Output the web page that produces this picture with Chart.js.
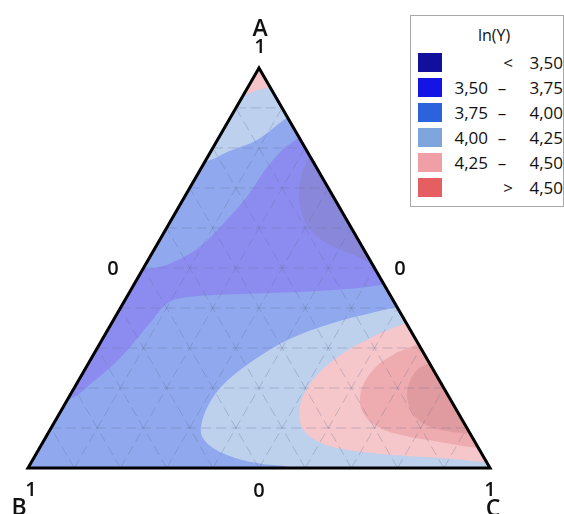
<!DOCTYPE html>
<html>
<head>
<meta charset="utf-8">
<script src="https://cdn.jsdelivr.net/npm/chart.js@4.4.0/dist/chart.umd.min.js"></script>
<style>
  body { margin: 0; background: #fff; font-family: "Open Sans", sans-serif; color: #000; }
  #wrap { position: relative; width: 564px; height: 514px; overflow: hidden; }
  #plot { position: absolute; left: 0; top: 0; }
  .lbl { position: absolute; transform: translate(-50%, -50%); line-height: 1; white-space: nowrap; font-weight: 600; color: #111; }
  #legend { position: absolute; left: 410px; top: 15px; width: 152px; height: 190px; border: 1px solid #a8a8a8; background: #fff; }
  #legend span { position: absolute; font-size: 17px; line-height: 1; white-space: nowrap; color: #111; font-weight: 500; }
  #legend .sw { width: 24px; height: 19px; }
</style>
</head>
<body>
<div id="wrap">
  <canvas id="plot" width="564" height="514"></canvas>
  <div id="legend"></div>
</div>
<script>
// ternary compositions are given as [A, C]; B = 1 - A - C
const vertexNames = ['A', 'B', 'C'];
const gridTicks = [0.1, 0.2, 0.3, 0.4, 0.5, 0.6, 0.7, 0.8, 0.9];

const levelTitle = 'ln(Y)';
const levelBreaks = ['3,50', '3,75', '4,00', '4,25', '4,50'];
const levelColors = ['#10109c', '#1414e4', '#2c62dc', '#7ea5dc', '#eea0a6', '#e45e62'];

// contour bands, boundaries (points outside the triangle get masked)
const bandWhole = [[0, 0], [0, 1], [1, 0]];
const bandPurple = [
  [0.828, 0.175], [0.818, 0.267], [0.468, 0.615], [0.458, 0.542], [0.448, 0.473],
  [0.440, 0.369], [0.435, 0.241], [0.428, 0.137], [0.413, 0.097], [0.363, 0.083],
  [0.275, 0.062], [0.213, 0.032], [0.173, 0.005], [0.180, -0.042], [0.505, -0.053],
  [0.498, 0.004], [0.503, 0.034], [0.520, 0.065], [0.553, 0.096], [0.613, 0.118],
  [0.678, 0.135], [0.748, 0.141], [0.798, 0.153]
];
const bandDarkPurple = [
  [0.780, 0.218], [0.730, 0.226], [0.668, 0.253], [0.603, 0.305], [0.560, 0.369],
  [0.535, 0.434], [0.515, 0.487], [0.530, 0.540], [0.768, 0.335], [0.793, 0.257]
];
const bandTopLight = [
  [0.755, -0.049], [0.768, 0.006], [0.793, 0.041], [0.820, 0.086], [0.863, 0.114],
  [0.888, 0.134], [0.918, 0.173], [1.068, -0.034]
];
const bandApexPink = [
  [0.948, -0.026], [0.935, 0.002], [0.945, 0.025], [0.953, 0.050], [0.963, 0.075], [1.055, -0.028]
];
const bandLowLight = [
  [0.403, 0.600], [0.418, 0.661], [-0.033, 1.103], [-0.045, 0.633], [0, 0.567],
  [0.010, 0.502], [0.025, 0.436], [0.048, 0.379], [0.078, 0.338], [0.108, 0.321],
  [0.155, 0.312], [0.205, 0.317], [0.263, 0.349], [0.323, 0.406], [0.368, 0.492], [0.390, 0.556]
];
const bandLightPink = [
  [0.363, 0.637], [0.368, 0.708], [0.013, 1.059], [0.015, 0.984], [0.025, 0.879],
  [0.033, 0.767], [0.045, 0.670], [0.063, 0.601], [0.093, 0.551], [0.133, 0.520],
  [0.185, 0.505], [0.235, 0.510], [0.290, 0.541], [0.335, 0.590]
];
const bandPink = [
  [0.310, 0.689], [0.318, 0.755], [0.048, 1.020], [0.050, 0.949], [0.065, 0.859],
  [0.083, 0.764], [0.105, 0.701], [0.138, 0.656], [0.175, 0.631], [0.218, 0.621],
  [0.258, 0.629], [0.288, 0.653]
];
const bandDarkPink = [
  [0.263, 0.737], [0.268, 0.801], [0.078, 0.983], [0.085, 0.916], [0.093, 0.856],
  [0.110, 0.802], [0.143, 0.758], [0.185, 0.728], [0.225, 0.717], [0.250, 0.721]
];

const S = Math.sqrt(3) / 2;
const toXY = ([a, c]) => ({ x: c + a / 2, y: a * S });
const X_MIN = -28 / 462, X_MAX = 536 / 462, Y_MIN = -46 / 462, Y_MAX = 468 / 462;

const band = (pts, color, order, tension) => ({
  data: pts.map(toXY), showLine: true, fill: 'shape', backgroundColor: color,
  borderColor: 'rgba(0,0,0,0)', borderWidth: 0, pointRadius: 0, tension: tension, order: order
});

const datasets = [
  band(bandWhole, '#8fa8ee', 20, 0),
  band(bandPurple, '#8c8cf0', 19, 0.35),
  band(bandDarkPurple, '#8987da', 18, 0.35),
  band(bandTopLight, '#bdd0ee', 18, 0.35),
  band(bandApexPink, '#f4c4c8', 17, 0.3),
  band(bandLowLight, '#bdd0ec', 17, 0.35),
  band(bandLightPink, '#f5c6ca', 16, 0.35),
  band(bandPink, '#efacb0', 15, 0.35),
  band(bandDarkPink, '#df9b9f', 14, 0.35)
];

// white mask outside the triangle
const tri = bandWhole.map(toXY);
datasets.push({
  data: [
    { x: X_MIN - 1, y: Y_MIN - 1 }, { x: X_MAX + 1, y: Y_MIN - 1 }, { x: X_MAX + 1, y: Y_MAX + 1 },
    { x: X_MIN - 1, y: Y_MAX + 1 }, { x: X_MIN - 1, y: Y_MIN - 1 },
    tri[0], tri[2], tri[1], tri[0], { x: X_MIN - 1, y: Y_MIN - 1 }
  ],
  showLine: true, fill: 'shape', backgroundColor: '#fff', borderColor: 'rgba(0,0,0,0)',
  borderWidth: 0, pointRadius: 0, tension: 0, order: 3
});

// dashed ternary grid
gridTicks.forEach(t => {
  [[[t, 0], [t, 1 - t]], [[0, t], [1 - t, t]], [[0, 1 - t], [1 - t, 0]]].forEach(seg => {
    datasets.push({
      data: seg.map(toXY), showLine: true, fill: false, borderColor: 'rgba(95,105,145,0.3)',
      borderWidth: 1, borderDash: [10, 5], pointRadius: 0, tension: 0, order: 2
    });
  });
});

// triangle outline
datasets.push({
  data: [tri[0], tri[2], tri[1], tri[0], tri[2]], showLine: true, fill: false,
  borderColor: '#000', borderWidth: 3, borderJoinStyle: 'miter', pointRadius: 0, tension: 0, order: 1
});

new Chart(document.getElementById('plot'), {
  type: 'scatter',
  data: { datasets: datasets },
  options: {
    responsive: false,
    animation: false,
    events: [],
    layout: { padding: 0 },
    plugins: { legend: { display: false }, tooltip: { enabled: false } },
    scales: {
      x: { type: 'linear', min: X_MIN, max: X_MAX, display: false },
      y: { type: 'linear', min: Y_MIN, max: Y_MAX, display: false }
    }
  }
});

// axis labels
const wrap = document.getElementById('wrap');
const addLabel = (txt, x, y, size) => {
  const d = document.createElement('div');
  d.className = 'lbl';
  d.textContent = txt;
  d.style.left = x + 'px';
  d.style.top = y + 'px';
  d.style.fontSize = size + 'px';
  wrap.appendChild(d);
};
addLabel(vertexNames[0], 260, 27, 23);
addLabel('1', 260, 46, 20);
addLabel('0', 113, 268, 20);
addLabel('0', 400, 268, 20);
addLabel('0', 259, 490, 20);
addLabel('1', 31, 489, 20);
addLabel(vertexNames[1], 19, 506, 23);
addLabel('1', 490, 489, 20);
addLabel(vertexNames[2], 493, 507, 23);

// legend
const legend = document.getElementById('legend');
const put = (txt, css) => {
  const s = document.createElement('span');
  s.textContent = txt;
  Object.assign(s.style, css);
  legend.appendChild(s);
  return s;
};
put(levelTitle, { left: '0', width: '166px', textAlign: 'center', top: '11px', fontSize: '16px' });
levelColors.forEach((col, i) => {
  const y = 38 + 25 * i;
  const sw = put('', { left: '7px', top: (y - 1) + 'px', background: col });
  sw.className = 'sw';
  const ty = y + 'px';
  const mid = { left: '91px', top: ty, transform: 'translateX(-50%)' };
  if (i === 0) {
    put('<', Object.assign({}, mid, { left: '97px' }));
    put(levelBreaks[0], { right: '0', top: ty });
  } else if (i === levelColors.length - 1) {
    put('>', Object.assign({}, mid, { left: '97px' }));
    put(levelBreaks[i - 1], { right: '0', top: ty });
  } else {
    put(levelBreaks[i - 1], { right: '75px', top: ty });
    put('–', mid);
    put(levelBreaks[i], { right: '0', top: ty });
  }
});
</script>
</body>
</html>
